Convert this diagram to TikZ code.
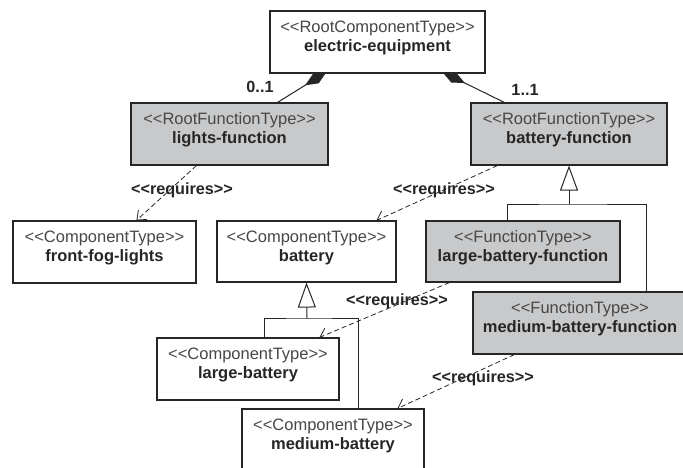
\documentclass[tikz,border=0pt]{standalone}
\usepackage{fontspec}
\newfontfamily\umlfont{Liberation Sans}
\usetikzlibrary{arrows.meta,calc,backgrounds}
\definecolor{boxgray}{RGB}{200,201,203}
\definecolor{ink}{RGB}{38,38,38}
\newcommand\sterL{<\kern0pt<}
\newcommand\sterR{>\kern0pt>}
\tikzset{
  umlbox/.style={draw=ink, line width=1.1pt, inner sep=0pt, rectangle},
  stereotxt/.style={anchor=base, inner sep=0pt, text=ink!85, font=\umlfont\fontsize{16.5}{19}\selectfont},
  nametxt/.style={anchor=base, inner sep=0pt, text=ink, font=\umlfont\fontsize{16.5}{19}\selectfont\bfseries},
  labtxt/.style={anchor=center, inner sep=0pt, text=ink, font=\umlfont\fontsize{16.2}{19}\selectfont\bfseries},
  dep/.style={draw=ink, line width=0.8pt, dash pattern=on 5pt off 3pt, -{Straight Barb[length=8pt,width=13pt]}},
  comp/.style={draw=ink, line width=1pt, -{Diamond[length=25pt,width=11pt,fill=ink]}},
  genline/.style={draw=ink, line width=1pt},
  gentip/.style={draw=ink, line width=1pt, -{Triangle[open,length=25pt,width=18pt]}}
}
% #1 name, #2 left, #3 top, #4 right, #5 bottom, #6 fill, #7 stereotype, #8 name text
\newcommand\umlbox[8]{%
  \node[umlbox, fill=#6, minimum width={(#4-#2)*1pt}, minimum height={(#5-#3)*1pt}] (#1) at ({(#2+#4)/2},{(#3+#5)/2}) {};
  \node[stereotxt] (#1-s) at ([yshift=-22pt]#1.north) {\sterL#7\sterR};
  \node[nametxt] (#1-n) at ([yshift=-41pt]#1.north) {#8};
}
\begin{document}
\begin{tikzpicture}[x=1pt,y=-1pt]
\useasboundingbox (0,0) rectangle (683,467);
\clip (0,0) rectangle (683,467);

\umlbox{root}{270}{11}{485}{73}{white}{RootComponentType}{electric-equipment}
\umlbox{lights}{131}{103}{328}{165}{boxgray}{RootFunctionType}{lights-function}
\umlbox{battf}{471}{103}{667}{165}{boxgray}{RootFunctionType}{battery-function}
\umlbox{ffl}{13}{221}{196}{283}{white}{ComponentType}{front-fog-lights}
\umlbox{batt}{217}{221}{396}{282}{white}{ComponentType}{battery}
\umlbox{lbf}{426}{221}{620}{282}{boxgray}{FunctionType}{large-battery-function}
\umlbox{mbf}{473}{292}{687}{354}{boxgray}{FunctionType}{medium-battery-function}
\umlbox{lb}{157}{338}{339}{400}{white}{ComponentType}{large-battery}
\umlbox{mb}{242}{409}{424}{471}{white}{ComponentType}{medium-battery}

\begin{scope}[on background layer]
  \fill[white] (0,0) rectangle (683,467);
  % composition
  \draw[comp] ([xshift=147pt]lights.north west) -- ([xshift=57pt,yshift=1.5pt]root.south west);
  \draw[comp] ([xshift=34pt]battf.north west) -- ([xshift=173pt,yshift=1.5pt]root.south west);
  % generalization: battery
  \coordinate (gb) at (307,318);
  \draw[genline] ([xshift=108pt]lb.north west) |- (gb) -| ([xshift=117pt]mb.north west);
  \draw[gentip] (gb) -- (batt.south);
  % generalization: battery-function
  \coordinate (gf) at (569,204);
  \draw[genline] ([xshift=82pt]lbf.north west) |- (gf) -| ([xshift=174pt]mbf.north west);
  \draw[gentip] (gf) -- (battf.south);
  % requires
  \draw[dep] ([xshift=66pt]lights.south west) -- ([xshift=124pt]ffl.north west);
  \draw[dep] ([xshift=27pt]battf.south west) -- ([xshift=160pt]batt.north west);
  \draw[dep] ([xshift=24pt]lbf.south west) -- ([xshift=163pt]lb.north west);
  \draw[dep] ([xshift=42pt]mbf.south west) -- ([xshift=156pt]mb.north west);
\end{scope}

\node[labtxt] (m1) at (260,87) {0..1};
\node[labtxt] (m2) at (525,90) {1..1};
\node[labtxt] (r1) at (182,190) {\sterL requires\sterR};
\node[labtxt] (r2) at (444,190) {\sterL requires\sterR};
\node[labtxt] (r3) at (397,301) {\sterL requires\sterR};
\node[labtxt] (r4) at (483,378) {\sterL requires\sterR};
\end{tikzpicture}
\end{document}
